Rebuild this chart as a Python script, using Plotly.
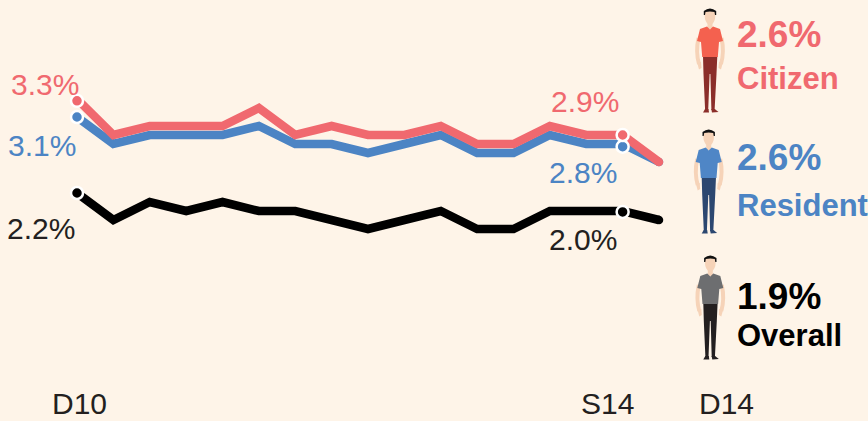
import plotly.graph_objects as go

# ---------- data ----------
quarters = ["D10", "M11", "J11", "S11", "D11", "M12", "J12", "S12", "D12",
            "M13", "J13", "S13", "D13", "M14", "J14", "S14", "D14"]
citizen = [3.3, 2.9, 3.0, 3.0, 3.0, 3.2, 2.9, 3.0, 2.9, 2.9, 3.0, 2.8, 2.8, 3.0, 2.9, 2.9, 2.6]
resident = [3.1, 2.8, 2.9, 2.9, 2.9, 3.0, 2.8, 2.8, 2.7, 2.8, 2.9, 2.7, 2.7, 2.9, 2.8, 2.8, 2.6]
overall = [2.2, 1.9, 2.1, 2.0, 2.1, 2.0, 2.0, 1.9, 1.8, 1.9, 2.0, 1.8, 1.8, 2.0, 2.0, 2.0, 1.9]
dot_quarters = ["D10", "S14"]
citizen_dots = [3.28, 2.9]
resident_dots = [3.1, 2.77]
overall_dots = [2.2, 1.99]
end_quarter = ["D14"]
shown_ticks = ["D10", "S14", "D14"]

BG = "#FEF4E8"
RED = "#F0696F"
BLUE = "#4C84C4"
BLACK = "#000000"
DARK = "#231F20"
SKIN = "#F6D3B8"
W, H = 868, 421


def px(x, y):
    return x / W, 1 - y / H


fig = go.Figure()

for values, color, axis in [
    (overall, BLACK, "y2"),
    (resident, BLUE, "y"),
    (citizen, RED, "y"),
]:
    fig.add_trace(go.Scatter(x=quarters, y=values, mode="lines", yaxis=axis,
                             line=dict(color=color, width=8.5), hoverinfo="skip"))
    fig.add_trace(go.Scatter(x=end_quarter, y=values[-1:], mode="markers", yaxis=axis,
                             marker=dict(color=color, size=8.5), hoverinfo="skip"))
for dots, color, axis in [
    (overall_dots, BLACK, "y2"),
    (resident_dots, BLUE, "y"),
    (citizen_dots, RED, "y"),
]:
    fig.add_trace(go.Scatter(x=dot_quarters, y=dots, mode="markers", yaxis=axis,
                             marker=dict(color=color, size=12, line=dict(color="white", width=2.5)),
                             hoverinfo="skip"))


def label(text, left, cy, color, size, bold=False):
    x, y = px(left, cy)
    fig.add_annotation(x=x, y=y, xref="paper", yref="paper", xanchor="left", yanchor="middle",
                       text=f"<b>{text}</b>" if bold else text, showarrow=False,
                       borderpad=0, borderwidth=0,
                       font=dict(family="Liberation Sans", size=size, color=color))


def pct(v):
    return f"{v:.1f}%"


label(pct(citizen[0]), 11, 84, RED, 30)
label(pct(resident[0]), 8, 145, BLUE, 30)
label(pct(overall[0]), 7, 228, DARK, 30)
label(pct(citizen[15]), 551, 101, RED, 30)
label(pct(resident[15]), 549, 172, BLUE, 30)
label(pct(overall[15]), 549, 239, DARK, 30)
label(shown_ticks[0], 52, 403, DARK, 30)
label(shown_ticks[1], 581, 403, DARK, 30)
label(shown_ticks[2], 699, 403, DARK, 30)

label(pct(citizen[16]), 737, 34, RED, 37, True)
label("Citizen", 737, 79, RED, 31, True)
label(pct(resident[16]), 737, 158, BLUE, 37, True)
label("Resident", 737, 205, BLUE, 31, True)
label(pct(overall[16]), 737, 296, BLACK, 37, True)
label("Overall", 737, 335, BLACK, 31, True)

# ---------- people icons ----------
shapes = []


def path(points, ox, oy, fill=None, stroke=None, sw=0):
    d = ""
    for p in points:
        if isinstance(p, str):
            d += p + " "
        else:
            xx, yy = px(ox + p[0], oy + p[1])
            d += f"{xx:.5f},{yy:.5f} "
    shapes.append(dict(type="path", path=d.strip(), xref="paper", yref="paper", layer="above",
                       fillcolor=fill or "rgba(0,0,0,0)",
                       line=dict(color=stroke or "rgba(0,0,0,0)", width=sw)))


def person(ox, oy, shirt, pants):
    # arms
    for s in (-1, 1):
        path(["M", (s * 11.5, 30), "Q", (s * 14.5, 44), (s * 11, 56)], ox, oy, stroke=SKIN, sw=4)
        path(["M", (s * 13, 54), "L", (s * 9, 54), "L", (s * 8.5, 60), "L", (s * 11, 61.5), "Z"], ox, oy, fill=SKIN)
    # neck and head
    path(["M", (-2.5, 13), "L", (2.5, 13), "L", (2.5, 21), "L", (-2.5, 21), "Z"], ox, oy, fill=SKIN)
    path(["M", (-5.5, 6), "Q", (-5.5, 1), (0, 1), "Q", (5.5, 1), (5.5, 6), "L", (5, 11),
          "Q", (3.5, 16.5), (0, 16.5), "Q", (-3.5, 16.5), (-5, 11), "Z"], ox, oy, fill=SKIN)
    # hair
    path(["M", (-6.2, 7), "L", (-6.2, 3), "Q", (0, -2), (6.2, 3), "L", (6.2, 7), "L", (5, 7),
          "L", (4.5, 4), "Q", (0, 3), (-4.5, 4), "L", (-5, 7), "Z"], ox, oy, fill="#111111")
    # trousers
    path(["M", (-7, 48), "L", (7.3, 48), "L", (6.5, 66), "L", (4.6, 102), "L", (1.4, 102), "L", (0.4, 66),
          "L", (-0.4, 66), "L", (-1.8, 102), "L", (-4.9, 102), "L", (-6.5, 66), "Z"], ox, oy, fill=pants)
    # shoes
    path(["M", (-5, 101), "L", (-1.5, 101), "L", (-1, 104.5), "L", (-7, 104.5), "Z"], ox, oy, fill=pants)
    path(["M", (1.3, 101), "L", (4.8, 101), "L", (8.5, 104), "L", (2, 104.5), "Z"], ox, oy, fill=pants)
    # shirt
    path(["M", (-3, 18.5), "L", (-10, 21), "L", (-13, 33), "L", (-9, 34), "L", (-7.8, 49), "L", (7.8, 49),
          "L", (9, 34), "L", (13, 33), "L", (10, 21), "L", (3, 18.5), "L", (0, 21.5), "Z"], ox, oy, fill=shirt)


person(710, 8, "#F4614F", "#8B2E2A")
person(708.7, 129, "#4F86C6", "#2C4770")
person(710.3, 255, "#6D6E70", "#231F20")

step = 36.375
fig.update_layout(
    width=W, height=H, autosize=False, showlegend=False,
    paper_bgcolor=BG, plot_bgcolor=BG,
    margin=dict(l=0, r=0, t=0, b=0),
    xaxis=dict(type="category", categoryorder="array", categoryarray=quarters,
               range=[-77 / step, (W - 77) / step], visible=False, fixedrange=True),
    yaxis=dict(range=[2.8 - 277 / 90, 2.8 + 144 / 90], visible=False, fixedrange=True),
    yaxis2=dict(range=[2.0 - 210 / 90, 2.0 + 211 / 90], visible=False, overlaying="y", fixedrange=True),
    shapes=shapes,
)
fig.write_html("out.html", config={"displayModeBar": False},
               post_script="document.body.style.margin='0';document.body.style.overflow='hidden';"
                           f"document.body.style.background='{BG}';")
